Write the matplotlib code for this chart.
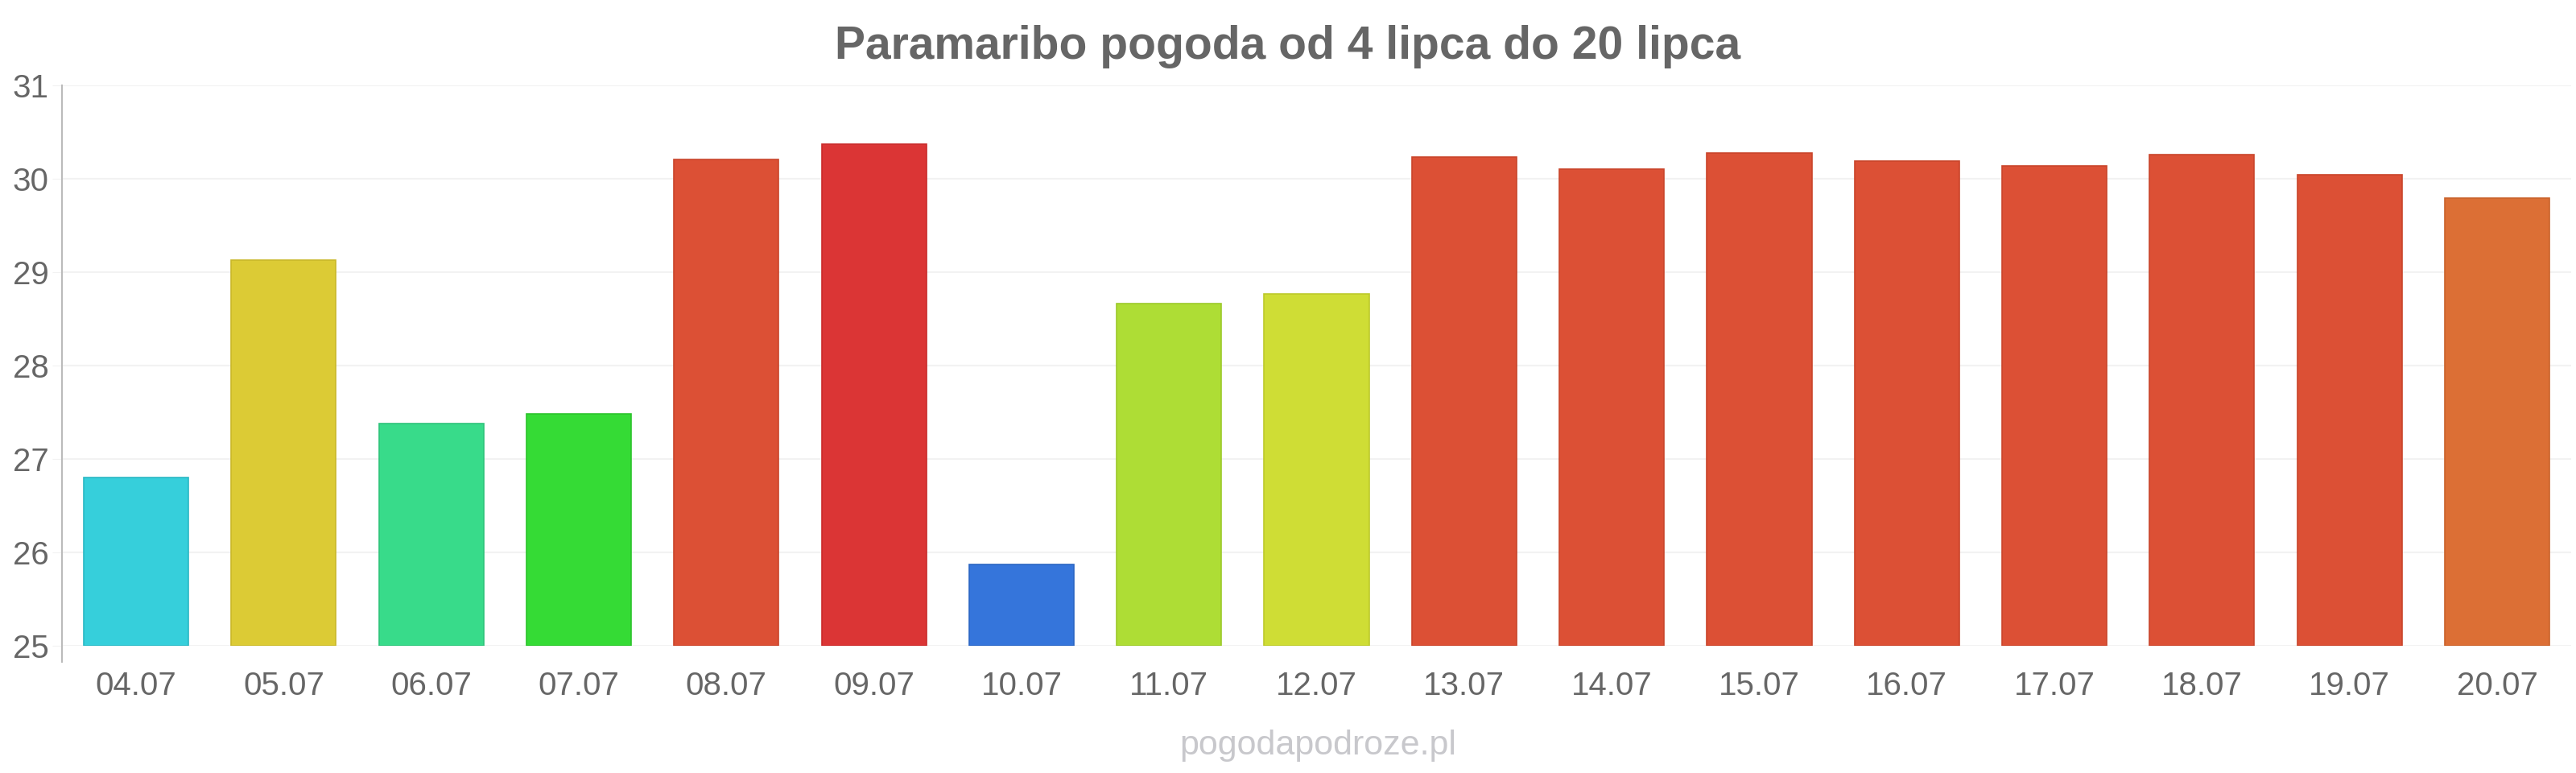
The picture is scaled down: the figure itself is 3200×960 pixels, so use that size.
import matplotlib
matplotlib.use('Agg')
import matplotlib.pyplot as plt

dates = ['04.07', '05.07', '06.07', '07.07', '08.07', '09.07', '10.07', '11.07', '12.07',
         '13.07', '14.07', '15.07', '16.07', '17.07', '18.07', '19.07', '20.07']
temps = [26.8, 29.13, 27.38, 27.48, 30.21, 30.37, 25.87, 28.66, 28.77,
         30.23, 30.1, 30.28, 30.19, 30.14, 30.26, 30.04, 29.79]
colors = ['#36cfdb', '#dccb35', '#38db8a', '#35db35', '#dc5035', '#db3535', '#3575db',
          '#aedd35', '#cfdd35', '#dc5035', '#dc5035', '#dc5035', '#dc5035', '#dc5035',
          '#dc5035', '#dc5035', '#dc6f35']
edges = ['#2bb8c4', '#c9b82a', '#2ec47a', '#2bc42b', '#c9452b', '#c92b2b', '#2b66c4',
         '#9cc92b', '#bcc92b', '#c9452b', '#c9452b', '#c9452b', '#c9452b', '#c9452b',
         '#c9452b', '#c9452b', '#c9622b']
yticks = [25, 26, 27, 28, 29, 30, 31]

plt.rcParams['font.family'] = ['Liberation Sans', 'DejaVu Sans']

fig = plt.figure(figsize=(32, 9.6), dpi=100)
ax = fig.add_axes([0.0242, 0.1646, 0.9738, 0.725])

x = list(range(len(dates)))
ax.bar(x, [t - 25 for t in temps], bottom=25, width=0.71, color=colors,
       edgecolor=edges, linewidth=1.2, zorder=3)

ax.set_xlim(-0.5, len(dates) - 0.5)
ax.set_ylim(25, 31)
ax.set_yticks(yticks)
ax.set_yticklabels([str(v) for v in yticks])
ax.set_xticks(x)
ax.set_xticklabels(dates)

ax.grid(axis='y', color='#f2f2f2', linewidth=1.5, zorder=0)
for s in ['top', 'right', 'bottom']:
    ax.spines[s].set_visible(False)
ax.spines['left'].set_color('#bbbbbb')
ax.spines['left'].set_linewidth(1.5)
ax.spines['left'].set_bounds(24.83, 31)

ax.tick_params(axis='y', length=9, color='#f2f2f2', labelsize=29, labelcolor='#666666', pad=3)
ax.tick_params(axis='x', length=0, labelsize=29, labelcolor='#666666', pad=22)

fig.text(0.5, 0.94, 'Paramaribo pogoda od 4 lipca do 20 lipca', ha='center', va='center',
         fontsize=41, fontweight='bold', color='#666666')
fig.text(0.5116, 0.035, 'pogodapodroze.pl', ha='center', va='center',
         fontsize=31, color='#c8c8cc')

fig.savefig('out.png', dpi=100)
